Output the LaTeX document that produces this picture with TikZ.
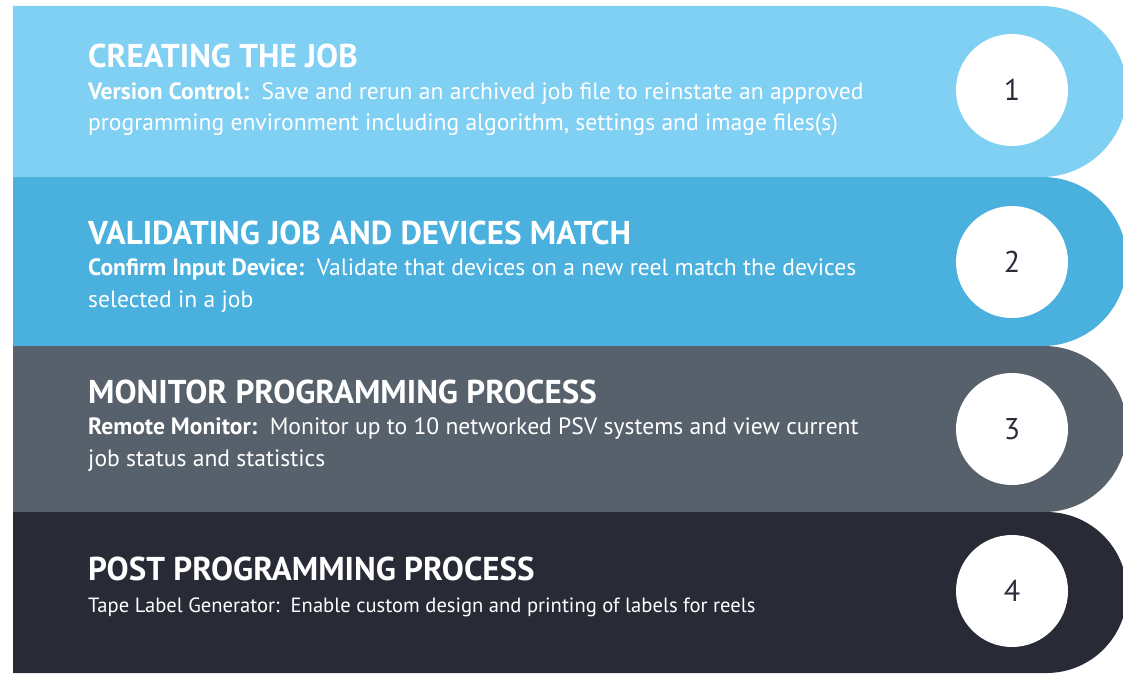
\documentclass[tikz,border=0pt]{standalone}
\usepackage{fontspec}
\setmainfont{PT Sans}
\definecolor{bandA}{HTML}{80D0F4}
\definecolor{bandB}{HTML}{4AB0DE}
\definecolor{bandC}{HTML}{56616C}
\definecolor{bandD}{HTML}{282A36}
\definecolor{numcol}{HTML}{2A2C38}
\begin{document}
\begin{tikzpicture}[x=1pt,y=-1pt,
  title/.style={anchor=base west, inner sep=0pt, text=white, font=\fontsize{33}{38}\selectfont\bfseries},
  body/.style={anchor=base west, inner sep=0pt, text=white, font=\fontsize{23.6}{28}\selectfont},
  bodysmall/.style={anchor=base west, inner sep=0pt, text=white, font=\fontsize{20.6}{25}\selectfont},
  num/.style={circle, fill=white, minimum size=112pt, inner sep=0pt, text=numcol, font=\fontsize{30}{36}\selectfont}]
\useasboundingbox (0,0) rectangle (1123,674);
\begin{scope}
\clip (0,0) rectangle (1123,674);
\fill[bandA] (13,6) -- (1041.5,6) arc[start angle=-90, end angle=90, radius=85.5] -- (13,177) -- cycle;
\fill[bandB] (13,177) -- (1042.5,177) arc[start angle=-90, end angle=90, radius=84.5] -- (13,346) -- cycle;
\fill[bandC] (13,346) -- (1044,346) arc[start angle=-90, end angle=90, radius=83] -- (13,512) -- cycle;
\fill[bandD] (13,512) -- (1046.5,512) arc[start angle=-90, end angle=90, radius=80.5] -- (13,673) -- cycle;
\end{scope}

\node[title] (t1) at (88,68) {CREATING THE JOB};
\node[body] (b1a) at (88,100) {\textbf{Version Control:}\ \ Save and rerun an archived job file to reinstate an approved};
\node[body] (b1b) at (88,131) {programming environment including algorithm, settings and image files(s)};

\node[title] (t2) at (88,244) {VALIDATING JOB AND DEVICES MATCH};
\node[body] (b2a) at (88,275) {\textbf{Confirm Input Device:}\ \ Validate that devices on a new reel match the devices};
\node[body] (b2b) at (88,307) {selected in a job};

\node[title] (t3) at (88,403) {MONITOR PROGRAMMING PROCESS};
\node[body] (b3a) at (88,434) {\textbf{Remote Monitor:}\ \ Monitor up to 10 networked PSV systems and view current};
\node[body] (b3b) at (88,466) {job status and statistics};

\node[title] (t4) at (88,580) {POST PROGRAMMING PROCESS};
\node[bodysmall] (b4a) at (88,612) {Tape Label Generator:\ \ Enable custom design and printing of labels for reels};

\node[num] (c1) at (1012,90) {1};
\node[num] (c2) at (1012,262) {2};
\node[num] (c3) at (1012,429) {3};
\node[num] (c4) at (1012,591) {4};
\end{tikzpicture}
\end{document}
